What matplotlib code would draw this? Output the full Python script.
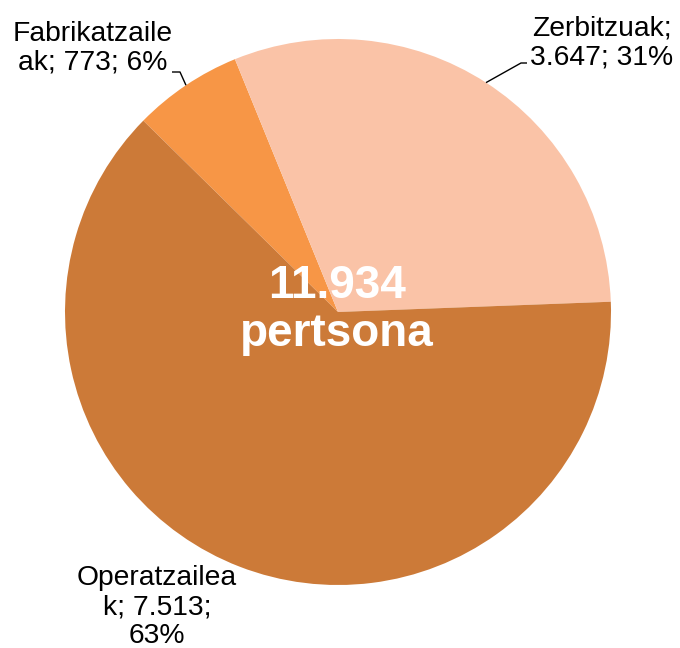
import numpy as np
import matplotlib
matplotlib.use("Agg")
import matplotlib.pyplot as plt

categories = ["Fabrikatzaileak", "Zerbitzuak", "Operatzaileak"]
values = [773, 3647, 7513]
pct_labels = ["6%", "31%", "63%"]
value_labels = ["773", "3.647", "7.513"]
label_texts = ["Fabrikatzaile\nak; 773; 6%", "Zerbitzuak;\n3.647; 31%", "Operatzailea\nk; 7.513;\n63%"]
total_label = "11.934\npertsona"
colors = ["#F79646", "#FAC3A7", "#CC7A38"]

plt.rcParams['font.family'] = ['Liberation Sans', 'DejaVu Sans']

W, H = 680, 648
fig = plt.figure(figsize=(W / 100, H / 100), dpi=100)
ax = fig.add_axes([0, 0, 1, 1])

cx, cy, R = 338, 312, 273  # pie centre / radius in pixels


def px(x, y):
    return (x - cx) / R, (cy - y) / R


wedges, _ = ax.pie(values, colors=colors, startangle=135.5, counterclock=False,
                   radius=1.0, center=(0, 0), wedgeprops=dict(linewidth=0))
ax.set_xlim((0 - cx) / R, (W - cx) / R)
ax.set_ylim((cy - H) / R, (cy - 0) / R)
ax.set_aspect('auto')
ax.axis('off')

label_pos = [(93, 48), (602, 43), (157, 607)]
leader_knee = [[(172, 72), (180, 72)], [(527, 63), (521, 63)], None]

for i, w in enumerate(wedges):
    tx, ty = px(*label_pos[i])
    ax.text(tx, ty, label_texts[i], ha='center', va='center', fontsize=20.3,
            linespacing=1.13, color='black')
    if leader_knee[i] is not None:
        mid = np.deg2rad((w.theta1 + w.theta2) / 2)
        ex, ey = np.cos(mid), np.sin(mid)
        pts = [px(*p) for p in leader_knee[i]]
        xs = [pts[0][0], pts[1][0], ex]
        ys = [pts[0][1], pts[1][1], ey]
        ax.plot(xs, ys, color='black', linewidth=1.0, solid_capstyle='butt')

ctx, cty = px(337, 310)
ax.text(ctx, cty, total_label, ha='center', va='center', fontsize=33,
        fontweight='bold', color='white', linespacing=1.12)

fig.savefig("out.png", dpi=100)
